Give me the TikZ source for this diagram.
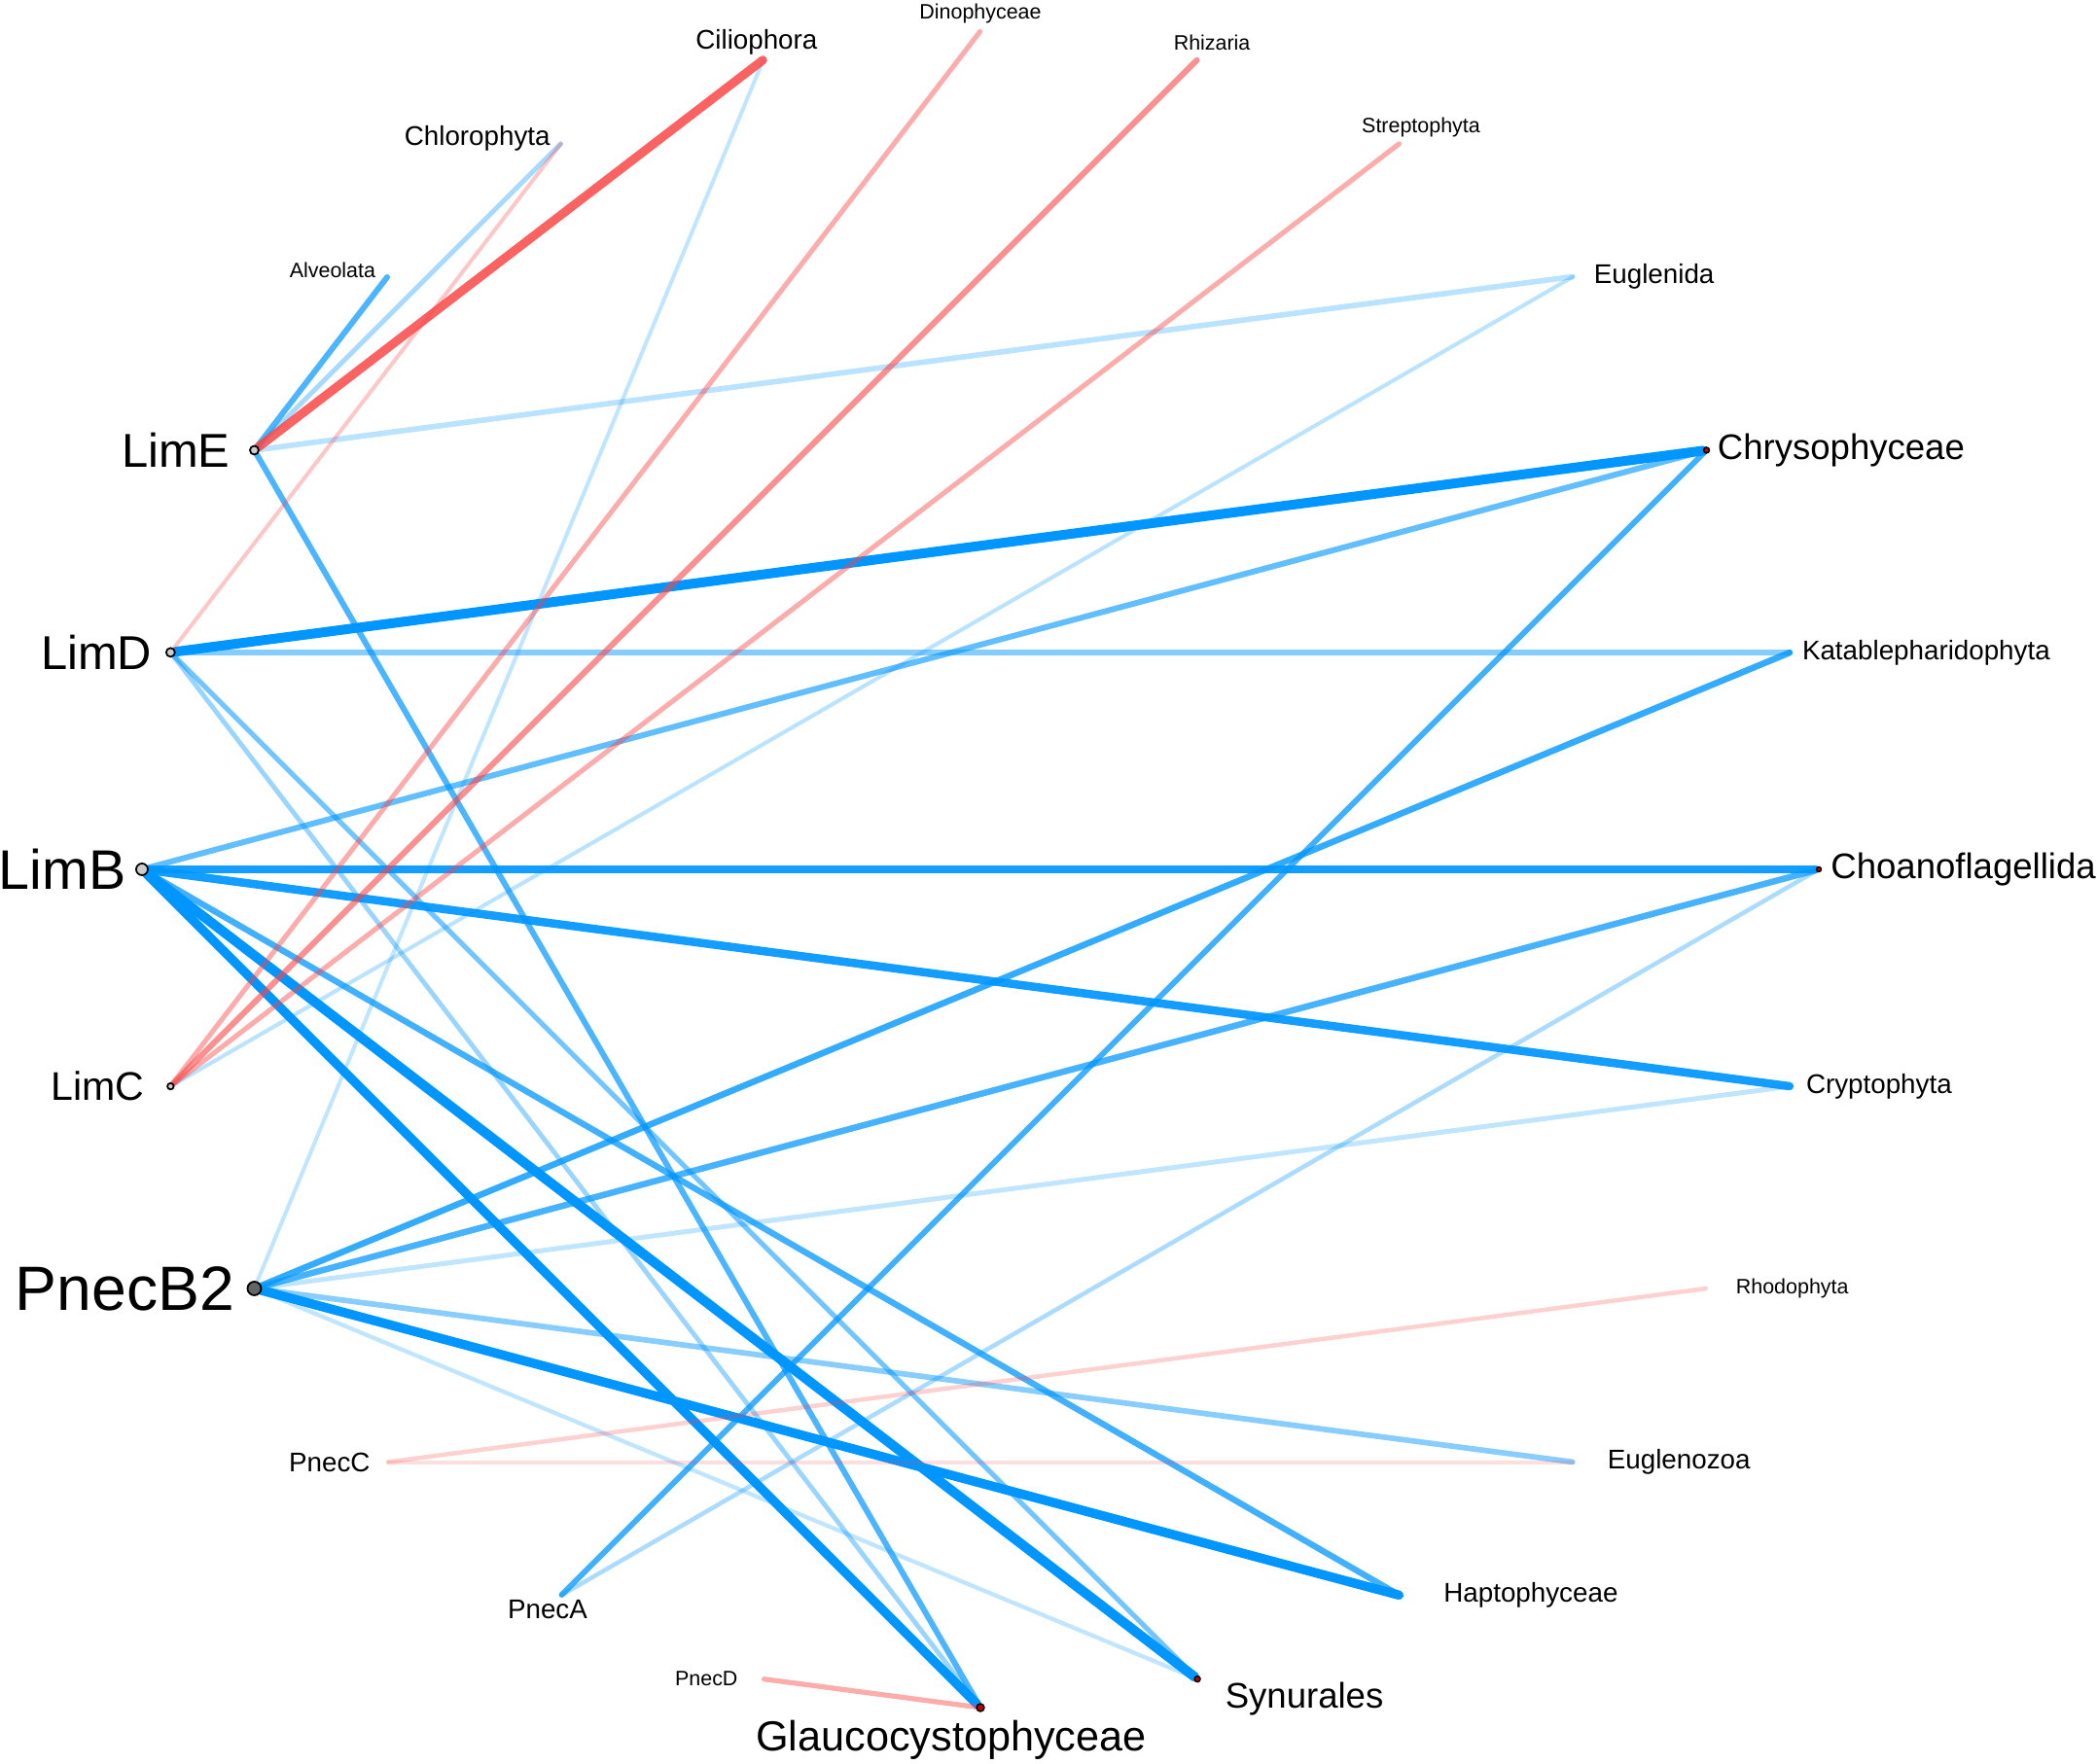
\documentclass[tikz,border=0pt]{standalone}
\usepackage{fontspec}
\setmainfont{Liberation Sans}
\usepackage{tikz}
\usepackage{xcolor}
\definecolor{ColPos}{RGB}{0,150,255}
\definecolor{ColNeg}{RGB}{250,70,70}
\definecolor{ColHub}{RGB}{205,205,205}
\definecolor{ColHubDark}{RGB}{100,100,100}
\definecolor{ColDot}{RGB}{190,0,0}
\tikzstyle{NodeHub}=[circle,draw=black,fill=ColHub,inner sep=0pt,line width=0.5pt]
\tikzstyle{NodeDot}=[circle,draw=black,fill=ColDot,inner sep=0pt,line width=0.4pt]
\tikzstyle{NodeTaxon}=[circle,inner sep=0pt,minimum size=0pt]
\tikzstyle{EdgePos}=[ColPos,line cap=round]
\tikzstyle{EdgeNeg}=[ColNeg,line cap=round]
\tikzstyle{LabTiny}=[inner sep=0pt,font=\fontsize{6.1}{7}\selectfont]
\tikzstyle{LabSmall}=[inner sep=0pt,font=\fontsize{7.9}{9}\selectfont]
\tikzstyle{LabMid}=[inner sep=0pt,font=\fontsize{10.4}{12}\selectfont]
\pgfdeclarelayer{edges}
\pgfsetlayers{edges,main}

\begin{document}
\begin{tikzpicture}
    \useasboundingbox(-10.08,-9.20)rectangle(11.48,8.94);
    % taxa around the circle
    \node[NodeDot,minimum size=0.05cm,label={[LabMid,label distance=0.085cm]right:Choanoflagellida}](Choano)at(0:8.62){};
    \node[NodeTaxon,label={[LabSmall,label distance=0.11cm]right:Katablepharidophyta}](Katab)at(15:8.62){};
    \node[NodeDot,minimum size=0.06cm,label={[LabMid,label distance=0.07cm]right:Chrysophyceae}](Chryso)at(30:8.62){};
    \node[NodeTaxon,label={[LabSmall,label distance=0.2cm]right:Euglenida}](Euglenida)at(45:8.62){};
    \node[NodeTaxon,label={[LabTiny,xshift=0.22cm,yshift=0.165cm]center:Streptophyta}](Strepto)at(60:8.62){};
    \node[NodeTaxon,label={[LabTiny,xshift=0.15cm,yshift=0.18cm]center:Rhizaria}](Rhiz)at(75:8.62){};
    \node[NodeTaxon,label={[LabTiny,yshift=0.18cm]center:Dinophyceae}](Dino)at(90:8.62){};
    \node[NodeTaxon,label={[LabSmall,xshift=-0.07cm,yshift=0.18cm]center:Ciliophora}](Cilio)at(105:8.62){};
    \node[NodeTaxon,label={[LabSmall,label distance=0.1cm,yshift=0.055cm]left:Chlorophyta}](Chloro)at(120:8.62){};
    \node[NodeTaxon,label={[LabTiny,label distance=0.11cm,yshift=0.07cm]left:Alveolata}](Alveo)at(135:8.62){};
    % samples
    \node[NodeHub,minimum size=0.09cm,label={[inner sep=0pt,font=\fontsize{13.9}{16}\selectfont,label distance=0.19cm]left:LimE}](LimE)at(150:8.62){};
    \node[NodeHub,minimum size=0.09cm,label={[inner sep=0pt,font=\fontsize{13.9}{16}\selectfont,label distance=0.13cm]left:LimD}](LimD)at(165:8.62){};
    \node[NodeHub,minimum size=0.12cm,label={[inner sep=0pt,font=\fontsize{16.3}{19}\selectfont,label distance=0.09cm]left:LimB}](LimB)at(180:8.62){};
    \node[NodeHub,minimum size=0.065cm,label={[inner sep=0pt,font=\fontsize{11.7}{14}\selectfont,label distance=0.22cm]left:LimC}](LimC)at(195:8.62){};
    \node[NodeHub,fill=ColHubDark,minimum size=0.14cm,label={[inner sep=0pt,font=\fontsize{18.3}{21}\selectfont,label distance=0.12cm]left:PnecB2}](PnecB2)at(210:8.62){};
    \node[NodeTaxon,label={[LabSmall,label distance=0.165cm]left:PnecC}](PnecC)at(225:8.62){};
    \node[NodeTaxon,label={[LabSmall,xshift=-0.14cm,yshift=-0.15cm]center:PnecA}](PnecA)at(240:8.62){};
    \node[NodeTaxon,label={[LabTiny,label distance=0.25cm]left:PnecD}](PnecD)at(255:8.62){};
    \node[NodeDot,minimum size=0.08cm,label={[inner sep=0pt,font=\fontsize{12.3}{15}\selectfont,xshift=-0.30cm,yshift=-0.33cm]center:Glaucocystophyceae}](Glauco)at(270:8.62){};
    \node[NodeDot,minimum size=0.06cm,label={[LabMid,xshift=1.10cm,yshift=-0.206cm]center:Synurales}](Synur)at(285:8.62){};
    \node[NodeTaxon,label={[LabSmall,label distance=0.44cm]right:Haptophyceae}](Hapto)at(300:8.62){};
    \node[NodeTaxon,label={[LabSmall,label distance=0.34cm]right:Euglenozoa}](Eugzoa)at(315:8.62){};
    \node[NodeTaxon,label={[LabTiny,label distance=0.29cm]right:Rhodophyta}](Rhodo)at(330:8.62){};
    \node[NodeTaxon,label={[LabSmall,label distance=0.15cm]right:Cryptophyta}](Crypto)at(345:8.62){};
    \begin{pgfonlayer}{edges}
        % positive associations
        \draw[EdgePos,line width=2.85pt](LimD)--(Chryso);
        \draw[EdgePos,line width=2.42pt,opacity=.93](LimB)--(Choano);
        \draw[EdgePos,line width=2.42pt,opacity=.93](LimB)--(Crypto);
        \draw[EdgePos,line width=2.7pt](LimB)--(Glauco);
        \draw[EdgePos,line width=2.85pt](LimB)--(Synur);
        \draw[EdgePos,line width=2.7pt](PnecB2)--(Hapto);
        \draw[EdgePos,line width=1.8pt,opacity=.75](LimB)--(Hapto);
        \draw[EdgePos,line width=1.7pt,opacity=.62](LimB)--(Chryso);
        \draw[EdgePos,line width=1.85pt,opacity=.8](PnecB2)--(Katab);
        \draw[EdgePos,line width=1.85pt,opacity=.72](PnecB2)--(Choano);
        \draw[EdgePos,line width=1.7pt,opacity=.75](PnecA)--(Chryso);
        \draw[EdgePos,line width=1.7pt,opacity=.7](LimE)--(Glauco);
        \draw[EdgePos,line width=1.7pt,opacity=.7](LimE)--(Alveo);
        \draw[EdgePos,line width=1.7pt,opacity=.48](LimD)--(Katab);
        \draw[EdgePos,line width=1.42pt,opacity=.55](LimD)--(Synur);
        \draw[EdgePos,line width=1.62pt,opacity=.47](PnecB2)--(Eugzoa);
        \draw[EdgePos,line width=1.37pt,opacity=.4](LimD)--(Glauco);
        \draw[EdgePos,line width=1.42pt,opacity=.35](LimE)--(Chloro);
        \draw[EdgePos,line width=1.6pt,opacity=.27](LimE)--(Euglenida);
        \draw[EdgePos,line width=1.14pt,opacity=.27](LimC)--(Euglenida);
        \draw[EdgePos,line width=1.42pt,opacity=.25](PnecB2)--(Crypto);
        \draw[EdgePos,line width=1.22pt,opacity=.25](PnecB2)--(Synur);
        \draw[EdgePos,line width=1.14pt,opacity=.25](PnecB2)--(Cilio);
        \draw[EdgePos,line width=1.28pt,opacity=.33](PnecA)--(Choano);
        % negative associations
        \draw[EdgeNeg,line width=2.56pt,opacity=.85](LimE)--(Cilio);
        \draw[EdgeNeg,line width=1.7pt,opacity=.6](LimC)--(Rhiz);
        \draw[EdgeNeg,line width=1.45pt,opacity=.45](LimC)--(Dino);
        \draw[EdgeNeg,line width=1.45pt,opacity=.45](LimC)--(Strepto);
        \draw[EdgeNeg,line width=1.14pt,opacity=.3](LimD)--(Chloro);
        \draw[EdgeNeg,line width=1.48pt,opacity=.45](PnecD)--(Glauco);
        \draw[EdgeNeg,line width=1.28pt,opacity=.25](PnecC)--(Rhodo);
        \draw[EdgeNeg,line width=1.14pt,opacity=.18](PnecC)--(Eugzoa);
    \end{pgfonlayer}
\end{tikzpicture}
\end{document}
